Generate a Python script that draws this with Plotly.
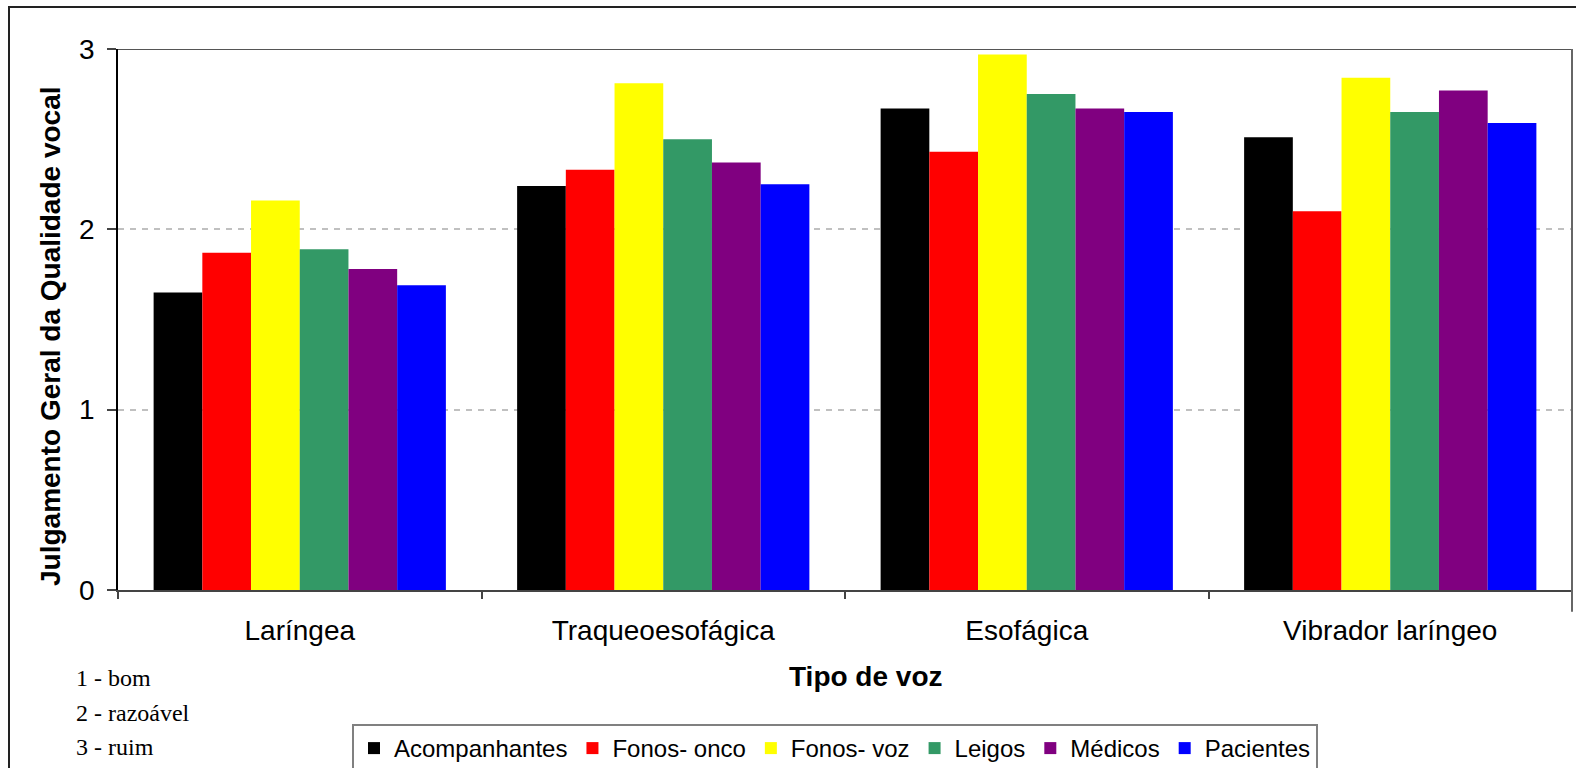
import plotly.graph_objects as go

categories = ["Laríngea", "Traqueoesofágica", "Esofágica", "Vibrador laríngeo"]
series_names = ["Acompanhantes", "Fonos- onco", "Fonos- voz", "Leigos", "Médicos", "Pacientes"]
acompanhantes = [1.65, 2.24, 2.67, 2.51]
fonos_onco = [1.87, 2.33, 2.43, 2.10]
fonos_voz = [2.16, 2.81, 2.97, 2.84]
leigos = [1.89, 2.50, 2.75, 2.65]
medicos = [1.78, 2.37, 2.67, 2.77]
pacientes = [1.69, 2.25, 2.65, 2.59]
series_values = [acompanhantes, fonos_onco, fonos_voz, leigos, medicos, pacientes]
colors = ["#000000", "#FF0000", "#FFFF00", "#339966", "#800080", "#0000FF"]
y_ticks = [0, 1, 2, 3]
notes = ["1 - bom", "2 - razoável", "3 - ruim"]

W, H = 1576, 768
L, R, T, B = 118, 4, 49, 178
pw, ph = W - L - R, H - T - B

def px(x):
    return (x - L) / pw

def py(y):
    return (H - B - y) / ph

fig = go.Figure()
for name, vals, col in zip(series_names, series_values, colors):
    fig.add_trace(go.Bar(x=categories, y=vals, name=name, marker=dict(color=col, line=dict(width=0))))

fig.update_layout(
    width=W, height=H,
    margin=dict(l=L, r=R, t=T, b=B, autoexpand=False),
    paper_bgcolor="white", plot_bgcolor="white",
    barmode="group", bargap=0.196, bargroupgap=0,
    font=dict(family="Liberation Sans, Arial, sans-serif", color="black"),
    showlegend=True,
    legend=dict(
        orientation="h", x=px(352), xanchor="left", y=py(724), yanchor="top",
        bordercolor="#808080", borderwidth=2, bgcolor="white",
        font=dict(family="Liberation Sans, Arial, sans-serif", size=24),
        itemwidth=30, traceorder="normal",
    ),
    xaxis=dict(
        showline=True, linecolor="#444444", linewidth=2,
        ticks="outside", tickson="boundaries", ticklen=7, tickcolor="#444444", tickwidth=1.5,
        tickfont=dict(size=28), showgrid=False, ticklabelstandoff=14,
    ),
    yaxis=dict(
        range=[0, 3], tickvals=y_ticks, showline=True, linecolor="black", linewidth=1.5,
        ticks="outside", ticklen=9, tickcolor="#444444", tickwidth=1.5,
        tickfont=dict(size=28), showgrid=True, gridcolor="#c0c0c0", gridwidth=2,
        griddash="6px,6px", zeroline=False, ticklabelstandoff=7,
    ),
)

# top and right border of plot area
fig.add_shape(type="line", xref="paper", yref="y", x0=0, x1=1, y0=3, y1=3,
              line=dict(color="#555555", width=2))
fig.add_shape(type="line", xref="paper", yref="paper", x0=1, x1=1, y0=-0.04, y1=1,
              line=dict(color="#666666", width=2))
# outer frame
fig.add_shape(type="rect", xref="paper", yref="paper", x0=px(9), x1=px(1600), y0=py(800), y1=py(7),
              line=dict(color="#222222", width=2), layer="below")

fig.add_annotation(text="<b>Julgamento Geral da Qualidade vocal</b>", xref="paper", yref="paper",
                   x=px(50), y=py(336), textangle=-90, showarrow=False,
                   font=dict(size=28), xanchor="center", yanchor="middle")
fig.add_annotation(text="<b>Tipo de voz</b>", xref="paper", yref="paper",
                   x=px(866), y=py(676), showarrow=False,
                   font=dict(size=28), xanchor="center", yanchor="middle")
for t, yy in zip(notes, [678, 713, 747]):
    fig.add_annotation(text=t, xref="paper", yref="paper", x=px(74), y=py(yy),
                       showarrow=False, xanchor="left", yanchor="middle",
                       font=dict(family="Liberation Serif, Times New Roman, serif", size=24))

fig.write_html("out.html", post_script="document.body.style.margin='0px';",
               config={"displayModeBar": False})
